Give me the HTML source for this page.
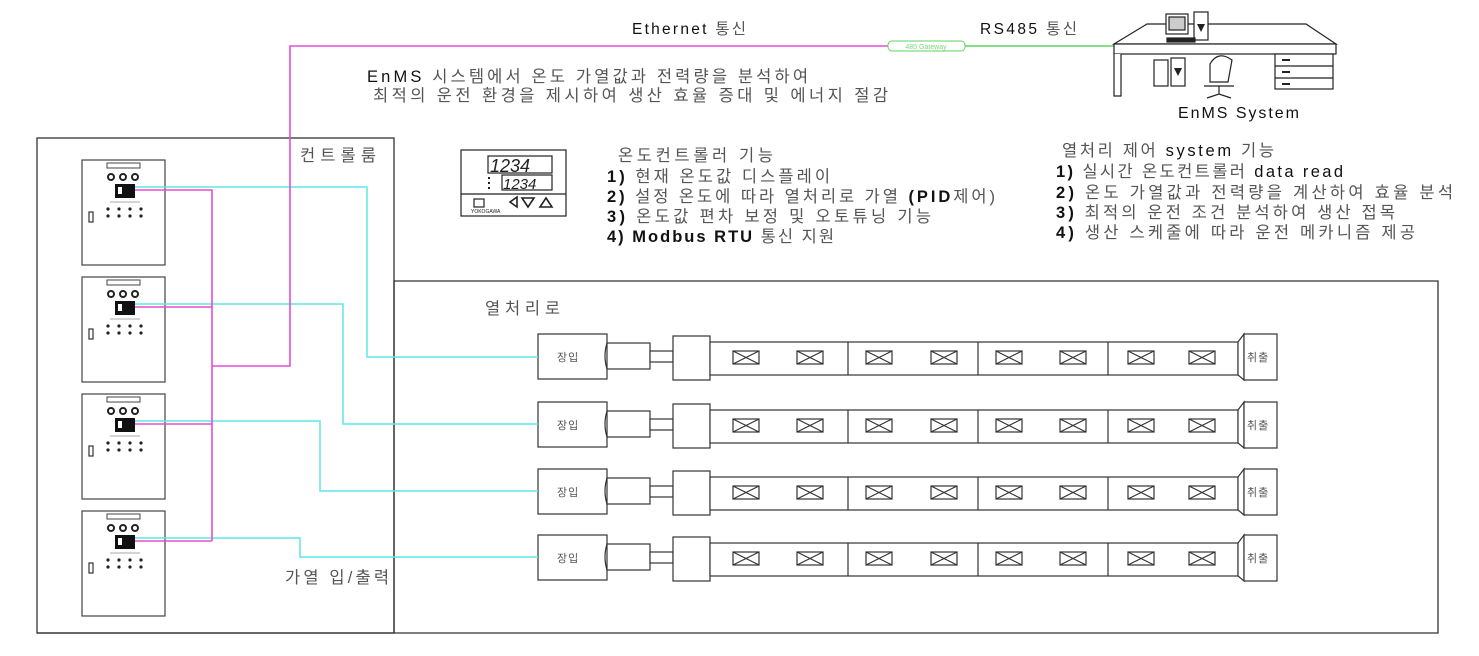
<!DOCTYPE html>
<html><head><meta charset="utf-8">
<style>
html,body{margin:0;padding:0;background:#fff;}
svg{display:block;}
text{font-family:"Liberation Sans","Noto Sans CJK KR",sans-serif;}
.k{fill:#555;font-size:16.5px;}
.b{fill:#111;font-weight:bold;}
</style></head><body>
<svg width="1479" height="656" viewBox="0 0 1479 656" xmlns="http://www.w3.org/2000/svg">
<defs>
 <g id="cab">
  <rect x="0" y="0" width="83" height="105" fill="#fff" stroke="#444" stroke-width="1.2"/>
  <rect x="25" y="3" width="33" height="5" fill="#fff" stroke="#444"/>
  <circle cx="29" cy="17" r="3" fill="none" stroke="#222" stroke-width="2"/>
  <circle cx="41" cy="17" r="3" fill="none" stroke="#222" stroke-width="2"/>
  <circle cx="53" cy="17" r="3" fill="none" stroke="#222" stroke-width="2"/>
  <rect x="33" y="24" width="20" height="14" fill="#111"/>
  <rect x="36" y="27" width="4" height="7" fill="#fff"/>
  <line x1="28" y1="42" x2="58" y2="42" stroke="#aaa" stroke-width="1"/>
  <g fill="#222"><circle cx="26" cy="49" r="1.6"/><circle cx="37" cy="49" r="1.6"/><circle cx="48" cy="49" r="1.6"/><circle cx="59" cy="49" r="1.6"/>
  <circle cx="26" cy="56" r="1.6"/><circle cx="37" cy="56" r="1.6"/><circle cx="48" cy="56" r="1.6"/><circle cx="59" cy="56" r="1.6"/></g>
  <rect x="7" y="52" width="4" height="10" fill="#fff" stroke="#333" stroke-width="1.2"/>
 </g>
 <g id="xb"><rect x="0" y="0" width="26" height="13" fill="#fff" stroke="#333"/><path d="M0 0L26 13M0 13L26 0" stroke="#333"/></g>
 <g id="row" fill="#fff" stroke="#333" stroke-width="1.2">
  <rect x="538" y="-22" width="69" height="45"/>
  <path d="M607 -13 Q603 0 607 13"/>
  <rect x="607" y="-13" width="43" height="26"/>
  <rect x="650" y="-5" width="23" height="11"/>
  <rect x="673" y="-20" width="37" height="44"/>
  <rect x="710" y="-14" width="528" height="33"/>
  <line x1="848" y1="-14" x2="848" y2="19"/><line x1="978" y1="-14" x2="978" y2="19"/><line x1="1108" y1="-14" x2="1108" y2="19"/>
  <path d="M1238 -14 L1244 -22 L1244 24 L1238 19 Z"/>
  <rect x="1244" y="-22" width="33" height="46"/>
  <use href="#xb" x="733" y="-5"/><use href="#xb" x="797" y="-5"/><use href="#xb" x="866" y="-5"/><use href="#xb" x="931" y="-5"/>
  <use href="#xb" x="996" y="-5"/><use href="#xb" x="1060" y="-5"/><use href="#xb" x="1128" y="-5"/><use href="#xb" x="1189" y="-5"/>
 </g>
</defs>

<rect x="37" y="138" width="357" height="495" fill="none" stroke="#333" stroke-width="1.3"/>
<path d="M394 633 V281 H1438 V633 H37" fill="none" stroke="#333" stroke-width="1.3"/>

<use href="#row" y="356"/><use href="#row" y="424"/><use href="#row" y="491"/><use href="#row" y="557"/>

<use href="#cab" x="82" y="160"/><use href="#cab" x="82" y="277"/><use href="#cab" x="82" y="394"/><use href="#cab" x="82" y="511"/>

<g fill="none" stroke="#5ee6e6" stroke-width="1.5">
 <path d="M135 187 H367 V357 H538"/>
 <path d="M135 304 H343 V424 H538"/>
 <path d="M135 421 H320 V491 H538"/>
 <path d="M135 538 H300 V557 H538"/>
</g>
<g fill="none" stroke="#e34fd0" stroke-width="1.6">
 <path d="M135 190 H212 V541"/>
 <path d="M135 307 H212"/><path d="M135 424 H212"/><path d="M135 541 H212"/>
 <path d="M212 366 H290 V46 H888"/>
</g>
<rect x="888" y="41" width="77" height="10" rx="4" fill="#fff" stroke="#5fd35f"/>
<text x="926" y="49" font-size="7" fill="#7d7" text-anchor="middle">485 Gateway</text>
<line x1="965" y1="46" x2="1117" y2="46" stroke="#5fd35f" stroke-width="1.5"/>

<g fill="#fff" stroke="#222" stroke-width="1.2">
 <path d="M1114 44 L1147 24 L1306 24 L1336 44 Z"/>
 <rect x="1114" y="44" width="222" height="10"/>
 <path d="M1114 54 V96 H1121 V54"/>
 <rect x="1275" y="54" width="58" height="35"/>
 <line x1="1275" y1="66" x2="1333" y2="66"/><line x1="1275" y1="78" x2="1333" y2="78"/>
 <rect x="1166" y="14" width="22" height="20"/>
 <rect x="1169" y="17" width="16" height="13" fill="#ccc"/>
 <rect x="1194" y="12" width="14" height="28"/>
 <rect x="1167" y="38" width="28" height="4" fill="#222"/>
 <rect x="1154" y="60" width="14" height="26"/>
 <rect x="1171" y="58" width="14" height="28"/>
 <path d="M1210 64 q8 -14 22 -4 l-4 22 h-18 z"/>
 <path d="M1204 86 h30 M1219 86 v8 M1207 98 l12 -4 l12 4"/>
</g>
<g fill="#222"><path d="M1197 24 l8 0 l-4 8z"/><path d="M1174 68 l8 0 l-4 8z"/><rect x="1282" y="59" width="8" height="2"/><rect x="1282" y="71" width="8" height="2"/><rect x="1282" y="83" width="8" height="2"/></g>

<g fill="none" stroke="#222" stroke-width="1.2">
 <rect x="461" y="150" width="105" height="66" fill="#fff"/>
 <line x1="461" y1="194" x2="566" y2="194"/>
 <rect x="488" y="156" width="64" height="17"/>
 <rect x="502" y="175" width="50" height="15"/>
 <rect x="474" y="199" width="10" height="8"/>
 <path d="M517 197 l-7 5 l7 5z M522 198 h12 l-6 9z M540 207 h12 l-6 -9z" stroke-width="1.6"/>
</g>
<text x="490" y="172" font-size="18" font-style="italic" fill="#222" font-family="Liberation Mono">1234</text>
<text x="503" y="189" font-size="15" font-style="italic" fill="#222" font-family="Liberation Mono">1234</text>
<g fill="#222"><rect x="488" y="177" width="2" height="2"/><rect x="488" y="182" width="2" height="2"/><rect x="488" y="187" width="2" height="2"/></g>
<text x="471" y="213" font-size="5" fill="#222">YOKOGAWA</text>

<text x="632" y="34" font-size="15.5" fill="#111" textLength="114" lengthAdjust="spacing">Ethernet <tspan fill="#555">통신</tspan></text>
<text x="980" y="34" font-size="15.5" fill="#111" textLength="97" lengthAdjust="spacing">RS485 <tspan fill="#555">통신</tspan></text>
<text x="367" y="82" class="k" textLength="441" lengthAdjust="spacing"><tspan fill="#111">EnMS</tspan> 시스템에서 온도 가열값과 전력량을 분석하여</text>
<text x="373" y="101" class="k" textLength="515" lengthAdjust="spacing">최적의 운전 환경을 제시하여 생산 효율 증대 및 에너지 절감</text>
<text x="1178" y="118" font-size="16" fill="#111" textLength="121" lengthAdjust="spacing">EnMS System</text>

<text x="300" y="161" class="k" textLength="76" lengthAdjust="spacing">컨트롤룸</text>
<text x="618" y="161" class="k" textLength="155" lengthAdjust="spacing">온도컨트롤러 기능</text>
<text x="607" y="182" class="k" textLength="223" lengthAdjust="spacing"><tspan class="b">1)</tspan> 현재 온도값 디스플레이</text>
<text x="607" y="202" class="k" textLength="388" lengthAdjust="spacing"><tspan class="b">2)</tspan> 설정 온도에 따라 열처리로 가열 <tspan class="b">(PID</tspan>제어)</text>
<text x="607" y="222" class="k" textLength="324" lengthAdjust="spacing"><tspan class="b">3)</tspan> 온도값 편차 보정 및 오토튜닝 기능</text>
<text x="607" y="242" class="k" textLength="227" lengthAdjust="spacing"><tspan class="b">4) Modbus RTU</tspan> 통신 지원</text>

<text x="1062" y="156" class="k" textLength="212" lengthAdjust="spacing">열처리 제어 <tspan fill="#111">system</tspan> 기능</text>
<text x="1056" y="177" class="k" textLength="287" lengthAdjust="spacing"><tspan class="b">1)</tspan> 실시간 온도컨트롤러 <tspan fill="#111">data read</tspan></text>
<text x="1056" y="198" class="k" textLength="397" lengthAdjust="spacing"><tspan class="b">2)</tspan> 온도 가열값과 전력량을 계산하여 효율 분석</text>
<text x="1056" y="218" class="k" textLength="339" lengthAdjust="spacing"><tspan class="b">3)</tspan> 최적의 운전 조건 분석하여 생산 접목</text>
<text x="1056" y="238" class="k" textLength="359" lengthAdjust="spacing"><tspan class="b">4)</tspan> 생산 스케줄에 따라 운전 메카니즘 제공</text>

<text x="485" y="314" class="k" textLength="75" lengthAdjust="spacing">열처리로</text>
<text x="285" y="583" class="k" textLength="104" lengthAdjust="spacing">가열 입/출력</text>

<g fill="#555" style="font-size:11px;letter-spacing:1px">
 <text x="557" y="361">장입</text><text x="557" y="429">장입</text><text x="557" y="496">장입</text><text x="557" y="562">장입</text>
 <text x="1247" y="361">취출</text><text x="1247" y="429">취출</text><text x="1247" y="496">취출</text><text x="1247" y="562">취출</text>
</g>
</svg>
</body></html>
